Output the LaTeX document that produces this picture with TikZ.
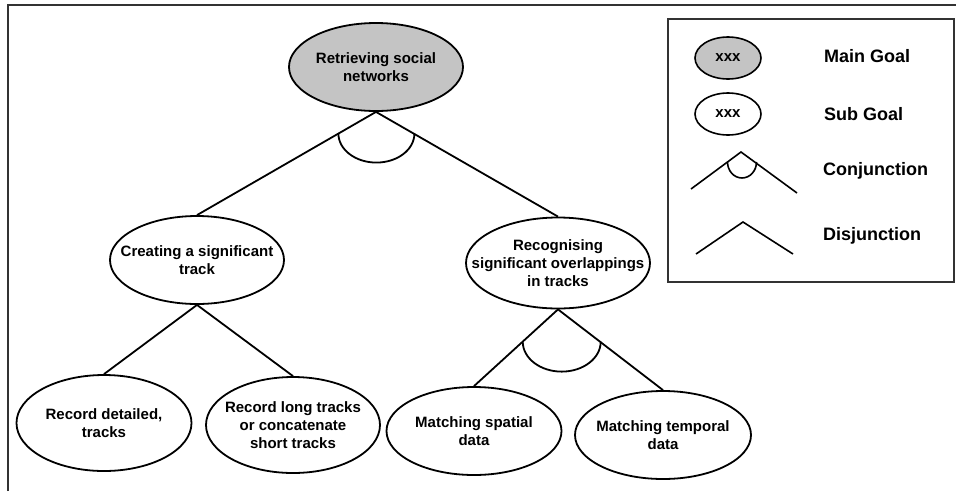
\documentclass[tikz,border=0pt]{standalone}
\usepackage{fontspec}
\setmainfont{Liberation Sans}
\usetikzlibrary{shapes.geometric,calc}
\definecolor{goalgrey}{HTML}{C4C4C4}
\definecolor{framegrey}{HTML}{333333}
\begin{document}
\begin{tikzpicture}[x=1pt,y=-1pt,
  goal/.style={ellipse,draw=black,line width=1.8pt,inner sep=0pt,fill=white},
  maingoal/.style={goal,fill=goalgrey},
  goaltext/.style={align=center,inner sep=0pt,font=\fontsize{15}{18}\selectfont\bfseries},
  link/.style={line width=1.8pt,black},
  lgtext/.style={anchor=west,font=\fontsize{18}{21}\selectfont\bfseries,inner sep=0pt}]
\useasboundingbox (0,0) rectangle (956,491);
% outer frame
\draw[line width=2.2pt,framegrey] (8,491) -- (8,5) -- (956,5);
% tree nodes
\node[maingoal,minimum width=174pt,minimum height=88pt] (m) at (376,67) {};
\node[goaltext] (mt) at (m) {Retrieving social\\networks};
\node[goal,minimum width=174pt,minimum height=88pt] (c1) at (197,260) {};
\node[goaltext] (c1t) at (c1) {Creating a significant\\track};
\node[goal,minimum width=184pt,minimum height=91pt] (c2) at (558,263) {};
\node[goaltext] (c2t) at (c2) {Recognising\\significant overlappings\\in tracks};
\node[goal,minimum width=175pt,minimum height=96pt] (l1) at (104,423) {};
\node[goaltext] (l1t) at (l1) {Record detailed,\\tracks};
\node[goal,minimum width=174pt,minimum height=96pt] (l2) at (293,425) {};
\node[goaltext] (l2t) at (l2) {Record long tracks\\or concatenate\\short tracks};
\node[goal,minimum width=175pt,minimum height=88pt] (l3) at (474,431) {};
\node[goaltext] (l3t) at (l3) {Matching spatial\\data};
\node[goal,minimum width=176pt,minimum height=88pt] (l4) at (663,435) {};
\node[goaltext] (l4t) at (l4) {Matching temporal\\data};
% connectors
\draw[link] (c1.north) -- (m.south) -- (c2.north);
\draw[link] (l1.north) -- (c1.south) -- (l2.north);
\draw[link] (l3.north) -- (c2.south) -- (l4.north);
% conjunction arcs
\draw[link] ($(m.south)!0.21!(c1.north)$) arc[start angle=180,end angle=360,x radius=38,y radius=-29];
\draw[link] ($(c2.south)!0.42!(l3.north)$) arc[start angle=180,end angle=360,x radius=39,y radius=-30];
% legend
\draw[line width=2.4pt,framegrey] (668,19) rectangle (954,282);
\node[maingoal,minimum width=66pt,minimum height=42pt,line width=1.6pt] (lm) at (728,58) {};
\node[goaltext] (lmt) at (lm) {xxx};
\node[goal,minimum width=66pt,minimum height=42pt,line width=1.6pt] (ls) at (728,114) {};
\node[goaltext] (lst) at (ls) {xxx};
\coordinate (ca) at (741,152);
\coordinate (cl) at (691,189);
\coordinate (cr) at (797,193);
\draw[link,line width=1.6pt] (cl) -- (ca) -- (cr);
\draw[link,line width=1.6pt] ($(ca)!0.27!(cl)$) arc[start angle=180,end angle=360,x radius=14.5,y radius=-16];
\coordinate (da) at (743,222);
\coordinate (dl) at (696,254);
\coordinate (dr) at (793,254);
\draw[link,line width=1.6pt] (dl) -- (da) -- (dr);
\node[lgtext] (t1) at (824,56) {Main Goal};
\node[lgtext] (t2) at (824,114) {Sub Goal};
\node[lgtext] (t3) at (823,171) {Conjunction};
\node[lgtext] (t4) at (823,236) {Disjunction};
\end{tikzpicture}
\end{document}
